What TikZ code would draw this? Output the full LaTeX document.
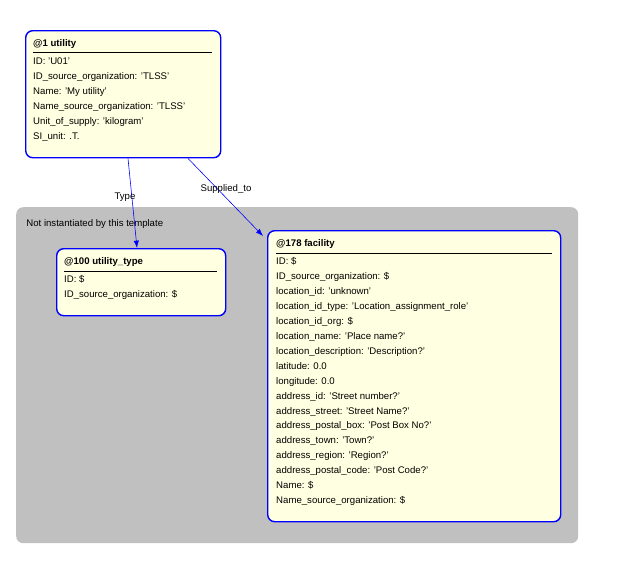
\documentclass[tikz,border=0pt]{standalone}
\usepackage{fontspec}
\setmainfont{Liberation Sans}
\usetikzlibrary{arrows.meta, positioning}
\definecolor{cBorder}{RGB}{0, 0, 255}
\definecolor{cFill}{RGB}{255, 255, 225}
\definecolor{cRegion}{RGB}{192, 192, 192}
\tikzset{
    entityBox/.style={
        rectangle, rounded corners=6pt, draw=cBorder, line width=1.2pt,
        fill=cFill, anchor=north west, inner sep=0pt
    },
    entityText/.style={
        anchor=north west, align=left, inner sep=0pt,
        font=\fontsize{8.2}{12.75}\selectfont
    },
    titleRule/.style={line width=0.6pt, draw=black},
    linkArrow/.style={
        -{Latex[length=2.2mm, width=1.6mm]}, draw=cBorder, line width=0.5pt
    },
    linkLabel/.style={font=\fontsize{8.2}{9}\selectfont, inner sep=1pt}
}
\begin{document}
\begin{tikzpicture}[x=0.03cm, y=-0.03cm]
	\useasboundingbox (0,0) rectangle (633,588);

	% =========================================================
	% Region
	% =========================================================

	\node [rectangle, rounded corners=6pt, fill=cRegion, anchor=north west,
		minimum width=562*0.03cm, minimum height=336*0.03cm] (region) at (16,207) {};
	\node [linkLabel, anchor=west] (regionLabel) at (25,224) {Not instantiated by this template};

	% =========================================================
	% Entities
	% =========================================================

	\node [entityBox, minimum width=195*0.03cm, minimum height=127*0.03cm] (utility) at (25,30) {};
	\node [entityText] (utilityText) at (33,39) {
		\textbf{@1 utility}\\[3pt]
		ID: 'U01'\\
		ID\_source\_organization: 'TLSS'\\
		Name: 'My utility'\\
		Name\_source\_organization: 'TLSS'\\
		Unit\_of\_supply: 'kilogram'\\
		SI\_unit: .T.
	};
	\draw [titleRule] (33,52) -- (212,52);

	\node [entityBox, minimum width=169*0.03cm, minimum height=67*0.03cm] (utilityType) at (56,248) {};
	\node [entityText] (utilityTypeText) at (64,257) {
		\textbf{@100 utility\_type}\\[3pt]
		ID: \$\\
		ID\_source\_organization: \$
	};
	\draw [titleRule] (64,271) -- (217,271);

	\node [entityBox, minimum width=293*0.03cm, minimum height=291*0.03cm] (facility) at (267,230) {};
	\node [entityText] (facilityText) at (276,239) {
		\textbf{@178 facility}\\[3pt]
		ID: \$\\
		ID\_source\_organization: \$\\
		location\_id: 'unknown'\\
		location\_id\_type: 'Location\_assignment\_role'\\
		location\_id\_org: \$\\
		location\_name: 'Place name?'\\
		location\_description: 'Description?'\\
		latitude: 0.0\\
		longitude: 0.0\\
		address\_id: 'Street number?'\\
		address\_street: 'Street Name?'\\
		address\_postal\_box: 'Post Box No?'\\
		address\_town: 'Town?'\\
		address\_region: 'Region?'\\
		address\_postal\_code: 'Post Code?'\\
		Name: \$\\
		Name\_source\_organization: \$
	};
	\draw [titleRule] (276,253) -- (552,253);

	% =========================================================
	% Links
	% =========================================================

	\coordinate (typeEnd) at (137,248);
	\coordinate (suppliedEnd) at (263,236);
	\draw [linkArrow] ([xshift=103*0.03cm]utility.south west) -- (typeEnd);
	\draw [linkArrow] ([xshift=163*0.03cm]utility.south west) -- (suppliedEnd);
	\node [linkLabel] (typeLabel) at (125,197) {Type};
	\node [linkLabel] (suppliedLabel) at (226,189) {Supplied\_to};
\end{tikzpicture}
\end{document}
